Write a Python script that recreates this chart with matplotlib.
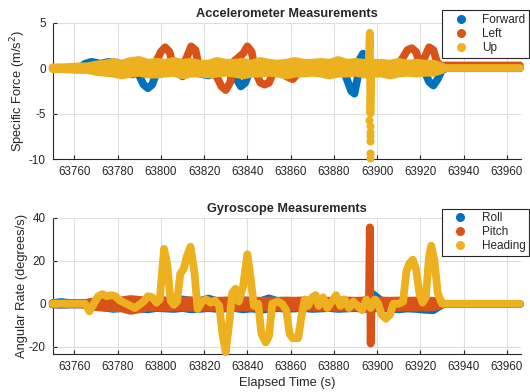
import numpy as np
import matplotlib
matplotlib.use("Agg")
import matplotlib.pyplot as plt
from matplotlib.lines import Line2D

plt.rcParams['font.family'] = ['Liberation Sans', 'DejaVu Sans']
plt.rcParams['axes.unicode_minus'] = False

BLUE, ORANGE, YELLOW = '#0072BD', '#D95319', '#EDB120'
TXT = '#262626'

# ---------------- Accelerometer data ----------------
fwd_t = [63750, 63762, 63765, 63768, 63772, 63776, 63780, 63784, 63788, 63790, 63792, 63794, 63796, 63798,
         63800, 63804, 63808, 63810, 63812, 63815, 63818, 63822, 63826, 63830, 63833, 63835, 63837, 63839,
         63841, 63844, 63848, 63852, 63856, 63860, 63864, 63868, 63872, 63876, 63880, 63884, 63886, 63888,
         63889.5, 63891, 63892, 63893.5, 63895, 63897, 63900, 63904, 63908, 63912, 63916, 63920, 63922,
         63924, 63926, 63928, 63930, 63932, 63966]
fwd_v = [0, 0, 0.5, 0.7, 0.5, 0.7, 0.6, 0.2, 0, -0.8, -1.8, -2.2, -1.8, -0.5,
         0.2, 0.3, -0.5, -0.9, -0.5, 0.3, -0.6, -0.8, -0.4, 0, -0.3, -1.2, -2.0, -1.6,
         -0.4, 0.3, 0.5, 0.2, -0.4, -0.6, 0.2, 0.5, 0.3, 0.2, -0.2, 0, -1.2, -2.5,
         -2.8, -1.0, 1.0, 1.6, 0.8, 0.3, 0, -0.3, -0.6, -0.4, 0, 0.2, -0.4,
         -1.5, -1.9, -1.2, -0.2, 0, 0]

left_t = [63750, 63770, 63774, 63778, 63782, 63785, 63787, 63789, 63792, 63796, 63798, 63800, 63802, 63804,
          63805.5, 63808, 63810, 63812, 63814, 63816, 63817.5, 63820, 63824, 63826, 63828, 63830, 63832,
          63834, 63836, 63838, 63840, 63842, 63843.5, 63846, 63848, 63850, 63852, 63855, 63858, 63861,
          63864, 63867, 63870, 63873, 63876, 63879, 63882, 63884, 63887, 63890, 63894, 63898, 63902, 63906,
          63910, 63912, 63914, 63916, 63918, 63919.5, 63921, 63922, 63924, 63926, 63927.5, 63929, 63931, 63966]
left_v = [0, 0, 0.3, 0.5, 0.2, -0.4, -0.7, -0.5, 0, 0.3, 0.8, 1.8, 2.3, 1.8,
          0.5, -0.3, 0.2, 1.2, 2.4, 2.0, 0.3, -0.4, -0.5, -1.0, -2.0, -2.4, -1.6,
          0.8, 1.2, 1.6, 2.4, 1.8, -0.2, -1.6, -1.8, -1.6, -0.4, 0.2, -0.9, -1.2,
          -0.4, 0.3, 0.6, 0.4, 0.2, 0.5, 0.8, 0.6, 0, 0.2, 0, -0.3, 0.2, 0.4,
          0.5, 1.2, 2.0, 2.2, 1.8, 0.6, 0.4, 1.2, 2.3, 2.0, 0.8, 0.3, 0.3, 0.3]

# Up: band envelopes sampled every 4 s from 63750 to 63930, then flat
up_hi = [0.1, 0.1, 0.15, 0.2, 0.2,
         0.4, 0.5, 0.7, 0.5, 0.8, 0.9, 0.6, 0.7,
         0.6, 0.8, 0.6, 0.7, 0.5, 0.5, 0.8, 0.6, 0.6, 0.7, 0.5, 0.8, 0.6, 0.5, 0.6, 0.8, 0.6,
         0.6, 0.7, 0.6, 0.9, 0.6, 0.7, 0.6, 0.6,
         0.6, 0.5, 0.7, 0.5, 0.6, 0.5, 0.5, 0.2]
up_lo = [-0.1, -0.1, -0.15, -0.2, -0.2,
         -0.4, -0.5, -0.6, -0.8, -0.6, -0.5, -0.7, -0.7,
         -0.6, -0.5, -0.8, -0.6, -0.6, -0.7, -0.6, -0.5, -0.6, -0.8, -0.6, -0.6, -0.5, -0.6, -0.8, -0.6,
         -0.6, -0.5, -0.6, -0.8, -0.6, -0.6, -0.5, -0.7, -0.6,
         -0.6, -0.8, -0.6, -0.5, -0.6, -0.5, -0.5, -0.2]
up_tail_t = [63930, 63966]
up_tail_v = [0, 0]
up_spike_t = [63896.0, 63896.6, 63896.9, 63897.3]
up_spike_v = [0.0, 3.9, -5.0, 0.0]
up_dots_t = [63896.4, 63896.7, 63896.5, 63896.8, 63896.6, 63896.7, 63896.8]
up_dots_v = [-5.7, -6.4, -7.0, -7.5, -8.0, -9.3, -9.9]

# ---------------- Gyroscope data ----------------
roll_hi = [0.3, 0.8, 0.3, 0.3, 0.4,
           1.2, 1.0, 1.4, 1.0, 1.2, 1.4, 1.0, 1.2,
           1.5, 1.2, 2.0, 1.4, 1.2, 2.4, 1.2, 1.4, 1.0, 1.6, 1.3, 1.2, 2.5, 1.2, 1.3, 1.0, 1.2,
           1.4, 1.2, 1.3, 1.0, 1.2, 1.3, 1.2, 4.5,
           1.3, 1.2, 1.0, 1.2, 1.3, 1.2, 1.0, 0.5]
roll_lo = [-0.3, -0.5, -0.3, -0.3, -0.4,
           -1.5, -1.8, -2.4, -2.0, -2.0, -2.3, -2.6, -2.0,
           -2.2, -2.4, -2.0, -2.6, -2.4, -2.0, -2.4, -2.2, -2.0, -2.6, -2.2, -2.8, -2.4, -2.0, -2.4, -2.2,
           -2.0, -2.4, -2.2, -2.0, -2.4, -2.2, -2.0, -2.4, -2.2,
           -2.0, -2.4, -2.6, -2.2, -2.4, -2.8, -3.0, -0.5]
pitch_hi = [0.3, 0.3, 0.3, 0.3, 0.5,
            1.2, 1.4, 1.5, 1.6, 2.2, 1.8, 1.4, 1.4,
            1.5, 1.4, 1.5, 1.6, 1.4, 1.5, 1.4, 1.5, 1.6, 1.4, 1.5, 1.4, 1.5, 1.4, 1.5, 1.4, 1.6,
            1.4, 1.5, 1.4, 1.6, 1.5, 1.4, 1.5, 1.4,
            1.5, 1.4, 1.5, 1.4, 1.5, 1.5, 1.4, 0.5]
pitch_lo = [-0.3, -0.3, -0.3, -0.3, -0.5,
            -1.5, -1.8, -2.0, -2.2, -3.3, -2.6, -1.8, -1.8,
            -1.8, -1.7, -1.8, -1.9, -1.7, -1.8, -1.7, -1.8, -1.9, -1.7, -1.8, -1.7, -1.8, -1.7, -1.8, -1.7,
            -1.9, -1.7, -1.8, -1.7, -1.9, -1.8, -1.7, -1.8, -1.7,
            -1.8, -1.7, -1.8, -1.7, -1.8, -1.8, -1.7, -0.5]
gyro_tail_t = [63930, 63966]
gyro_tail_v = [0, 0]
pitch_spike_t = [63896.2, 63896.6, 63897.0, 63897.4]
pitch_spike_v = [0.0, 35.5, -18.5, 0.0]

head_t = [63750, 63765, 63767, 63769, 63771, 63773, 63775, 63777, 63779, 63781, 63783, 63786, 63788,
          63790, 63792, 63794, 63796, 63798, 63799.5, 63801.5, 63803, 63804.5, 63806, 63807.5, 63809,
          63810.5, 63812, 63813.7, 63815.5, 63817, 63819, 63821, 63823, 63825, 63827, 63828.5, 63830,
          63831.5, 63833, 63834.5, 63836, 63838, 63840, 63841.5, 63843, 63845, 63846.5, 63848.5, 63850,
          63851.5, 63854, 63856, 63858, 63859.5, 63861, 63863.5, 63865, 63866.5, 63868, 63870, 63871.5,
          63873, 63875, 63877, 63879, 63881, 63883, 63885, 63887, 63889, 63891, 63893, 63895, 63897,
          63899, 63900.5, 63902, 63904, 63906, 63907.5, 63910, 63912, 63913.5, 63915, 63916.5, 63918,
          63919.5, 63921, 63922.5, 63924, 63925, 63926.5, 63928, 63930, 63932, 63966]
head_v = [0, 0, -3.5, 0, 3.5, 4.5, 3.5, 4, 3.5, 1.5, 0.5, -1, -2,
          -0.5, 1, 3.5, 3, 0.5, 2, 25.5, 18, 1.5, -0.5, 1, 14,
          16, 22, 26.5, 15, -2.5, 1, 2, 0.5, 1.5, -1, -14, -22.5,
          -10, 5, 7, 1, 8, 23, 12, -1, 0, -14, -18, -15,
          0, 1, 0, -3, -14, -16, -16, -6, 2, -1, 3, 4,
          -1, 3, -2, 1, 4, -1, 2, -2, 1, -1, -3, 2, -2,
          2, 0, -5, -7, -5, 0, 0, 1, 15, 19, 20.5, 16,
          5, 0.5, 3, 22, 27, 20, 5, 0, 0, 0]

band_t = np.arange(63750, 63931, 4)

fig = plt.figure(figsize=(5.30, 3.92), dpi=100)
ax1 = fig.add_axes([0.0994, 0.594, 0.8836, 0.348])
ax2 = fig.add_axes([0.0994, 0.0962, 0.8836, 0.3484])

LW = 5.6
kw = dict(lw=LW, solid_capstyle='round', solid_joinstyle='round', clip_on=False, zorder=2)


def band(ax, t, lo, hi, color):
    ax.fill_between(t, lo, hi, color=color, lw=0, clip_on=False, zorder=2)
    ax.plot(t, hi, color=color, **kw)
    ax.plot(t, lo, color=color, **kw)


# accelerometer
ax1.plot(fwd_t, fwd_v, color=BLUE, **kw)
ax1.plot(left_t, left_v, color=ORANGE, **kw)
band(ax1, band_t, up_lo, up_hi, YELLOW)
ax1.plot(up_tail_t, up_tail_v, color=YELLOW, **kw)
ax1.plot(up_spike_t, up_spike_v, color=YELLOW, **kw)
ax1.plot(up_dots_t, up_dots_v, 'o', color=YELLOW, ms=5.8, mew=0, clip_on=False, zorder=2)

# gyroscope
band(ax2, band_t, roll_lo, roll_hi, BLUE)
ax2.plot(gyro_tail_t, gyro_tail_v, color=BLUE, **kw)
band(ax2, band_t, pitch_lo, pitch_hi, ORANGE)
ax2.plot(gyro_tail_t, gyro_tail_v, color=ORANGE, **kw)
ax2.plot(pitch_spike_t, pitch_spike_v, color=ORANGE, **kw)
ax2.plot(head_t, head_v, color=YELLOW, **kw)

xticks = list(range(63760, 63961, 20))
for ax in (ax1, ax2):
    ax.set_xlim(63750, 63966.5)
    ax.set_xticks(xticks)
    ax.grid(True, color='#dedede', lw=0.8)
    ax.set_axisbelow(True)
    for s in ('top', 'right'):
        ax.spines[s].set_visible(False)
    for s in ('left', 'bottom'):
        ax.spines[s].set_color(TXT)
        ax.spines[s].set_linewidth(0.8)
        ax.spines[s].set_zorder(0.5)
    ax.tick_params(direction='in', length=3, width=0.8, colors=TXT, labelsize=8.4, labelcolor=TXT, pad=5)

ax1.set_ylim(-10, 5)
ax1.set_yticks([-10, -5, 0, 5])
ax2.set_ylim(-23.5, 40)
ax2.set_yticks([-20, 0, 20, 40])

ax1.set_title('Accelerometer Measurements', fontsize=9.2, fontweight='bold', color=TXT, pad=4)
ax2.set_title('Gyroscope Measurements', fontsize=9.2, fontweight='bold', color=TXT, pad=4)
ax1.set_ylabel('Specific Force (m/s$^2$)', fontsize=9.3, color=TXT)
ax2.set_ylabel('Angular Rate (degrees/s)', fontsize=9.3, color=TXT)
ax1.yaxis.set_label_coords(-0.053, 0.5)
ax2.yaxis.set_label_coords(-0.053, 0.5)
ax2.set_xlabel('Elapsed Time (s)', fontsize=9.3, color=TXT, labelpad=3)


def add_legend(ax, labels, anchor):
    hs = [Line2D([], [], marker='o', ls='none', color=c, ms=6.5, mew=0) for c in (BLUE, ORANGE, YELLOW)]
    leg = ax.legend(hs, labels, loc='upper right', bbox_to_anchor=anchor, bbox_transform=fig.transFigure,
                    fontsize=8.5, frameon=True, fancybox=False, edgecolor=TXT, framealpha=1,
                    borderpad=0.3, labelspacing=0.18, handlelength=2.6, handletextpad=0.5,
                    borderaxespad=0)
    leg.get_frame().set_linewidth(0.8)
    for t in leg.get_texts():
        t.set_color(TXT)
    leg.set_zorder(10)


add_legend(ax1, ['Forward', 'Left', 'Up'], (0.998, 1 - 10.5 / 392))
add_legend(ax2, ['Roll', 'Pitch', 'Heading'], (0.998, 1 - 208.5 / 392))

fig.savefig('out.png', dpi=100)
